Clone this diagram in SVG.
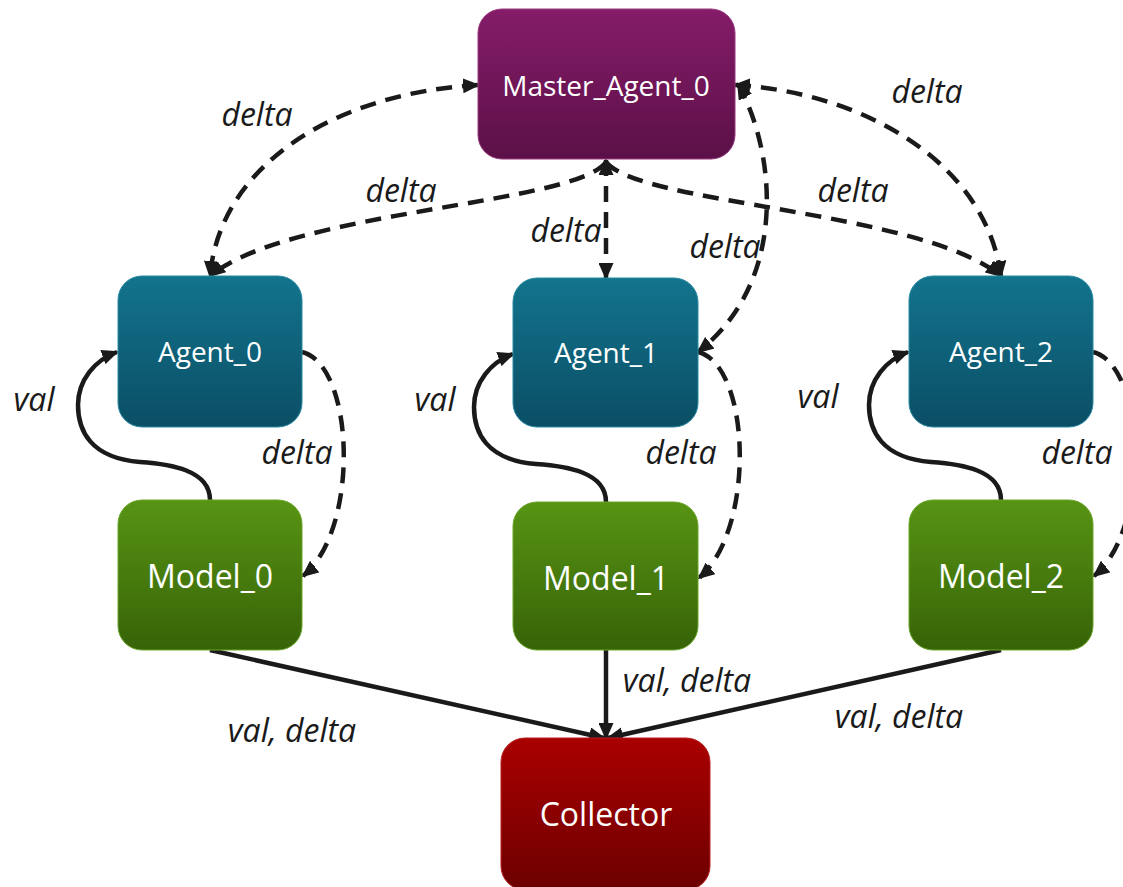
<svg xmlns="http://www.w3.org/2000/svg" width="1123" height="887" viewBox="0 0 1123 887">
  <defs>
    <linearGradient id="gMaster" x1="0" y1="0" x2="0" y2="1">
      <stop offset="0" stop-color="#851C69"/>
      <stop offset="1" stop-color="#5B1047"/>
    </linearGradient>
    <linearGradient id="gAgent" x1="0" y1="0" x2="0" y2="1">
      <stop offset="0" stop-color="#13748D"/>
      <stop offset="1" stop-color="#0A4E65"/>
    </linearGradient>
    <linearGradient id="gModel" x1="0" y1="0" x2="0" y2="1">
      <stop offset="0" stop-color="#579414"/>
      <stop offset="1" stop-color="#376307"/>
    </linearGradient>
    <linearGradient id="gCollector" x1="0" y1="0" x2="0" y2="1">
      <stop offset="0" stop-color="#AA0000"/>
      <stop offset="1" stop-color="#6C0000"/>
    </linearGradient>
    <marker id="arrow" markerUnits="userSpaceOnUse" viewBox="0 0 17 15" markerWidth="17" markerHeight="15" refX="15" refY="7.5" orient="auto-start-reverse">
      <path d="M0,0 L17,7.5 L0,15 z" fill="#1a1a1a"/>
    </marker>
  </defs>
  <style>
    .node rect { stroke-width: 1; }
    .master rect { fill: url(#gMaster); stroke: #9a3a80; }
    .agent rect { fill: url(#gAgent); stroke: #2a8aa2; }
    .model rect { fill: url(#gModel); stroke: #6aa52a; }
    .collector rect { fill: url(#gCollector); stroke: #b82020; }
    .node text { font-family: "Open Sans", "DejaVu Sans", sans-serif; fill: #ffffff; text-anchor: middle; }
    .small { font-size: 28px; }
    .big { font-size: 32px; }
    .edge { fill: none; stroke: #1a1a1a; stroke-width: 4.5; }
    .dash { stroke-dasharray: 16 10; }
    .label { font-family: "Open Sans", "DejaVu Sans", sans-serif; font-style: italic; font-size: 32px; fill: #1a1a1a; text-anchor: middle; }
  </style>
  <rect width="1123" height="887" fill="#ffffff"/>

  <!-- connectors -->
  <g id="connectors">
    <!-- master <-> agents -->
    <path class="edge dash" d="M 478 85 C 335 93, 220 165, 210 276" marker-start="url(#arrow)" marker-end="url(#arrow)"/>
    <path class="edge dash" d="M 606 162 C 575 205, 290 210, 210 276" marker-end="url(#arrow)"/>
    <path class="edge dash" d="M 606 160 L 606 278" marker-start="url(#arrow)" marker-end="url(#arrow)"/>
    <path class="edge dash" d="M 606 162 C 640 205, 920 210, 1001 276" marker-end="url(#arrow)"/>
    <path class="edge dash" d="M 735 85 C 860 92, 985 160, 1001 276" marker-start="url(#arrow)" marker-end="url(#arrow)"/>
    <path class="edge dash" d="M 738 84 C 775 150, 790 280, 698 352" marker-start="url(#arrow)" marker-end="url(#arrow)"/>

    <!-- agent -> model (delta) -->
    <path class="edge dash" d="M 302 352 C 355 365, 360 530, 303 576" marker-end="url(#arrow)"/>
    <path class="edge dash" d="M 698 352 C 751 365, 756 530, 699 578" marker-end="url(#arrow)"/>
    <path class="edge dash" d="M 1093 352 C 1146 365, 1151 530, 1094 576" marker-end="url(#arrow)"/>

    <!-- model -> agent (val) -->
    <path class="edge" d="M 210 500 C 210 470, 170 464, 140 462 C 90 458, 78 430, 78 405 C 78 380, 95 360, 117 352" marker-end="url(#arrow)"/>
    <path class="edge" d="M 606 502 C 606 472, 566 466, 536 464 C 486 460, 474 432, 474 407 C 474 382, 491 362, 513 354" marker-end="url(#arrow)"/>
    <path class="edge" d="M 1001 500 C 1001 470, 961 464, 931 462 C 881 458, 869 430, 869 405 C 869 380, 886 360, 908 352" marker-end="url(#arrow)"/>

    <!-- models -> collector -->
    <path class="edge" d="M 210 650 L 604 738" marker-end="url(#arrow)"/>
    <path class="edge" d="M 606 650 L 606 738" marker-end="url(#arrow)"/>
    <path class="edge" d="M 1001 650 L 608 738" marker-end="url(#arrow)"/>

    <!-- edge labels -->
    <text class="label" x="257" y="126">delta</text>
    <text class="label" x="401" y="202">delta</text>
    <text class="label" x="566" y="242">delta</text>
    <text class="label" x="725" y="258">delta</text>
    <text class="label" x="927" y="103">delta</text>
    <text class="label" x="853" y="202">delta</text>
    <text class="label" x="34" y="411">val</text>
    <text class="label" x="297" y="464">delta</text>
    <text class="label" x="435" y="411">val</text>
    <text class="label" x="681" y="464">delta</text>
    <text class="label" x="818" y="408">val</text>
    <text class="label" x="1077" y="464">delta</text>
    <text class="label" x="292" y="742">val, delta</text>
    <text class="label" x="687" y="692">val, delta</text>
    <text class="label" x="899" y="728">val, delta</text>
  </g>

  <!-- nodes -->
  <g id="master_agent_0" class="node master">
    <rect x="478" y="9" width="257" height="150" rx="24"/>
    <text class="small" x="606" y="96">Master_Agent_0</text>
  </g>
  <g id="agent_0" class="node agent">
    <rect x="118" y="276" width="184" height="151" rx="24"/>
    <text class="small" x="210" y="362">Agent_0</text>
  </g>
  <g id="agent_1" class="node agent">
    <rect x="513" y="278" width="185" height="149" rx="24"/>
    <text class="small" x="606" y="363">Agent_1</text>
  </g>
  <g id="agent_2" class="node agent">
    <rect x="909" y="276" width="184" height="151" rx="24"/>
    <text class="small" x="1001" y="362">Agent_2</text>
  </g>
  <g id="model_0" class="node model">
    <rect x="118" y="500" width="184" height="150" rx="24"/>
    <text class="big" x="210" y="588">Model_0</text>
  </g>
  <g id="model_1" class="node model">
    <rect x="513" y="502" width="185" height="148" rx="24"/>
    <text class="big" x="606" y="590">Model_1</text>
  </g>
  <g id="model_2" class="node model">
    <rect x="909" y="500" width="184" height="150" rx="24"/>
    <text class="big" x="1001" y="588">Model_2</text>
  </g>
  <g id="collector" class="node collector">
    <rect x="501" y="738" width="209" height="152" rx="24"/>
    <text class="big" x="606" y="826">Collector</text>
  </g>
</svg>
